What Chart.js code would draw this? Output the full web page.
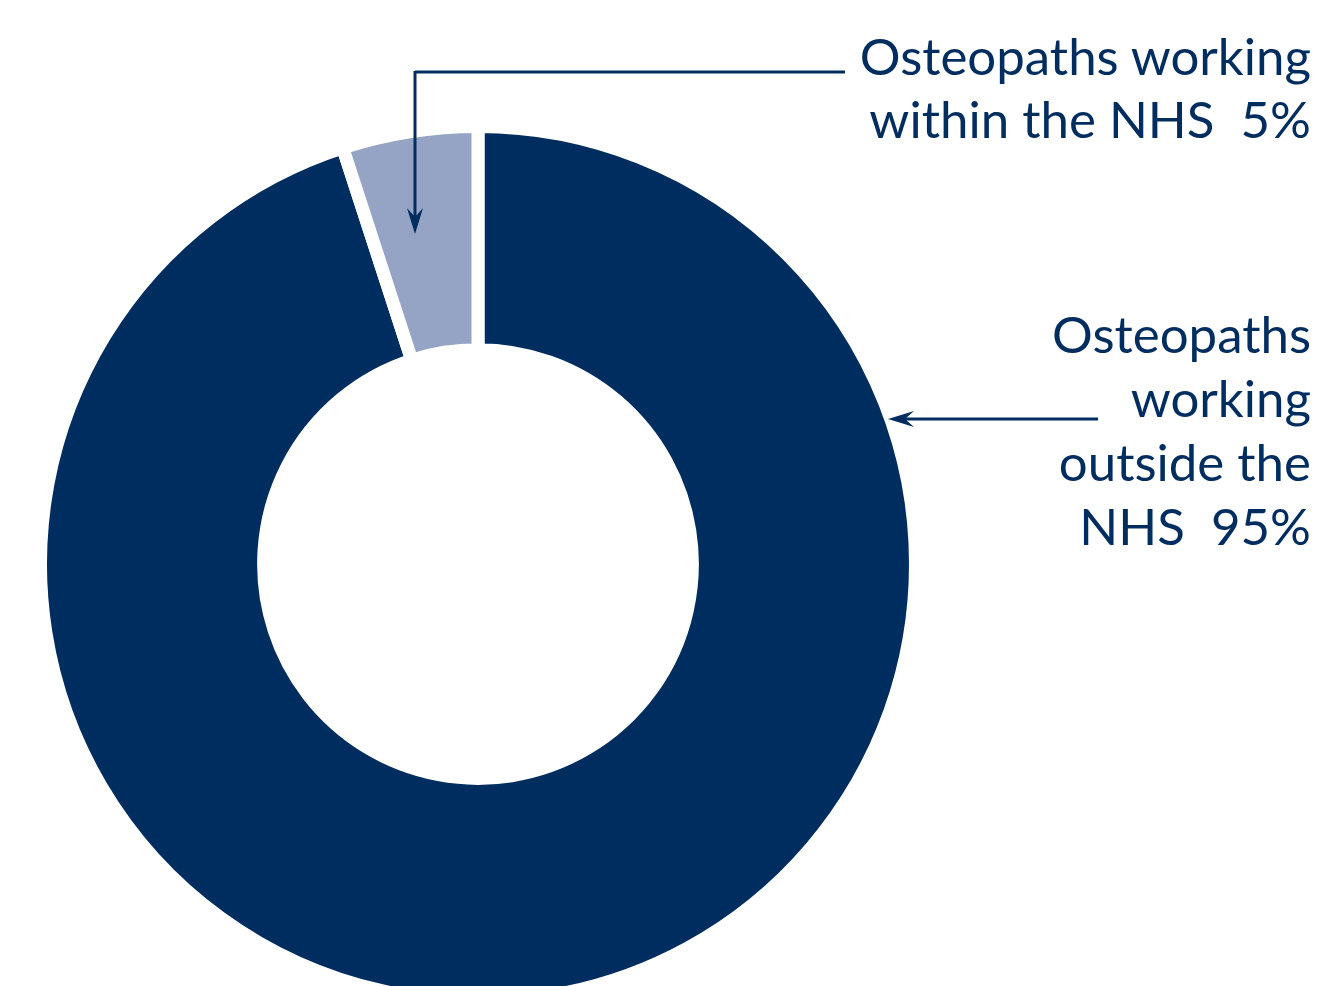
<!DOCTYPE html>
<html>
<head>
<meta charset="utf-8">
<script src="https://cdn.jsdelivr.net/npm/chart.js@4"></script>
<style>
  html, body { margin: 0; padding: 0; background: #fff; overflow: hidden; }
  #wrap { position: relative; width: 1317px; height: 986px; }
  canvas { position: absolute; left: 0; top: 0; }
  .label {
    position: absolute;
    right: 6px;
    text-align: right;
    font-family: Lato, "Open Sans", sans-serif;
    font-size: 51px;
    color: #002d5f;
    white-space: nowrap;
  }
  #label-within { top: 24px; line-height: 63px; }
  #label-outside { top: 302px; line-height: 64px; }
</style>
</head>
<body>
<div id="wrap">
  <canvas id="chart" width="1317" height="986"></canvas>
  <div class="label" id="label-within">Osteopaths working<br>within the NHS&nbsp; 5%</div>
  <div class="label" id="label-outside">Osteopaths<br>working<br>outside the<br>NHS&nbsp; 95%</div>
</div>
<script>
const categories = ['Osteopaths working outside the NHS', 'Osteopaths working within the NHS'];
const shares = [95, 5];
const sliceColors = ['#002d5f', '#95a3c4'];

const navy = '#002d5f';

// draws a straight line ending in a notched arrow head at (x2, y2)
function arrow(ctx, x1, y1, x2, y2) {
    const ang = Math.atan2(y2 - y1, x2 - x1);
    const len = 26, half = 8, notch = 17;
    ctx.beginPath();
    ctx.moveTo(x1, y1);
    ctx.lineTo(x2 - Math.cos(ang) * notch, y2 - Math.sin(ang) * notch);
    ctx.stroke();
    ctx.save();
    ctx.translate(x2, y2);
    ctx.rotate(ang);
    ctx.beginPath();
    ctx.moveTo(0, 0);
    ctx.lineTo(-len, -half);
    ctx.lineTo(-notch, 0);
    ctx.lineTo(-len, half);
    ctx.closePath();
    ctx.fill();
    ctx.restore();
}

const leaderLines = {
    id: 'leaderLines',
    afterDraw(chart) {
        const ctx = chart.ctx;
        ctx.save();
        ctx.strokeStyle = navy;
        ctx.fillStyle = navy;
        ctx.lineWidth = 3;
        ctx.lineCap = 'butt';
        // within the NHS
        ctx.beginPath();
        ctx.moveTo(845, 72);
        ctx.lineTo(415, 72);
        ctx.stroke();
        arrow(ctx, 415, 71, 415, 234);
        // outside the NHS
        arrow(ctx, 1098, 419, 888, 419);
        ctx.restore();
    }
};

const ctx = document.getElementById('chart').getContext('2d');
new Chart(ctx, {
    type: 'doughnut',
    data: {
        labels: categories,
        datasets: [{
            data: shares,
            backgroundColor: sliceColors,
            borderColor: '#ffffff',
            borderWidth: 13,
            borderAlign: 'center'
        }]
    },
    options: {
        responsive: false,
        animation: false,
        events: [],
        radius: 437.5,
        cutout: '49%',
        layout: {
            padding: { left: 0, right: 361, top: 142, bottom: 0 }
        },
        plugins: {
            legend: { display: false },
            tooltip: { enabled: false }
        }
    },
    plugins: [leaderLines]
});
</script>
</body>
</html>
